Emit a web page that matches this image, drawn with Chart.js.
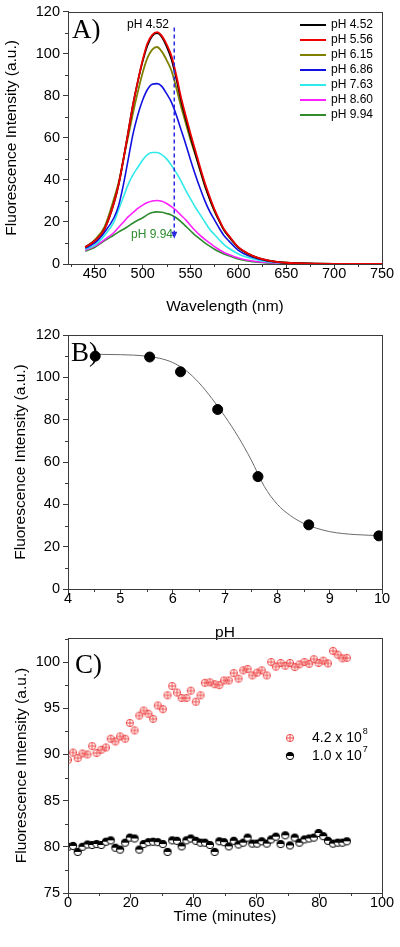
<!DOCTYPE html>
<html>
<head>
<meta charset="utf-8">
<script src="https://cdn.jsdelivr.net/npm/chart.js@4.4.1/dist/chart.umd.min.js"></script>
<style>
    html, body { margin: 0; padding: 0; background: #fff; }
    #wrap { position: relative; width: 400px; height: 947px; overflow: hidden; }
    .panel { position: absolute; left: 0; width: 400px; }
</style>
</head>
<body>
<div id="wrap">
    <div class="panel" style="top:0;height:316px"><canvas id="chartA"></canvas></div>
    <div class="panel" style="top:316px;height:326px"><canvas id="chartB"></canvas></div>
    <div class="panel" style="top:622px;height:325px"><canvas id="chartC"></canvas></div>
</div>
<script>
// ---------- DATA: A) spectra ----------
const wavelengths = [440, 450, 460, 470, 475, 480, 485, 490, 495, 500, 505, 510, 515, 520, 525, 530, 535, 540, 545, 550,
    555, 560, 565, 570, 575, 580, 585, 590, 600, 610, 620, 630, 640, 650, 660, 680, 700, 720, 750];
const phLabels = ['pH 4.52', 'pH 5.56', 'pH 6.15', 'pH 6.86', 'pH 7.63', 'pH 8.60', 'pH 9.94'];
const phColors = ['#000000', '#ee0000', '#808000', '#1010e0', '#30eaea', '#ff20ff', '#2e8b2e'];
const spec452 = [8, 11, 16.5, 29, 38, 50, 63, 76, 87, 96.5, 104, 108.5, 109.8, 108, 103.5, 97.5, 88.5, 78, 69, 60.5,
    52.5, 45, 37.5, 31, 25.5, 20.5, 16.2, 13.2, 7.8, 4.9, 2.9, 1.7, 1.0, 0.6, 0.4, 0.2, 0.1, 0.05, 0];
const spec556 = [8, 11, 16.5, 29, 38, 50, 63, 76, 87, 97, 105, 109, 110.3, 108.5, 104.5, 99, 90, 79.5, 70.5, 62,
    54, 46, 38.5, 32, 26, 21, 16.5, 13.5, 8, 5, 3, 1.8, 1.0, 0.6, 0.4, 0.2, 0.1, 0.05, 0];
const spec615 = [8, 11.5, 17.5, 31, 39, 50, 61, 72, 82, 91, 98, 102, 103.2, 101, 97, 92, 84, 75, 67, 59,
    52, 44.5, 37, 31, 25, 20.5, 16, 13, 7.8, 4.8, 2.9, 1.7, 1.0, 0.6, 0.4, 0.2, 0.1, 0.05, 0];
const spec686 = [7.5, 10, 15, 22, 28, 38, 50, 62, 71, 78, 83, 85.5, 85.8, 84.5, 81, 77, 71, 64, 57, 49.5,
    42.5, 36, 30, 25, 21, 17, 13.5, 11, 6.5, 4, 2.5, 1.5, 0.9, 0.5, 0.35, 0.15, 0.1, 0.05, 0];
const spec763 = [7, 9, 13.5, 20, 26, 32, 38, 42.5, 46, 49.5, 52, 53, 53, 52, 50, 47, 43.5, 39.5, 35, 31,
    27, 23.5, 20, 16.5, 14, 11.5, 9.2, 7.5, 4.8, 3.1, 1.9, 1.1, 0.65, 0.4, 0.25, 0.1, 0.05, 0.02, 0];
const spec860 = [6.5, 8.5, 11.5, 15, 17.5, 20, 22.5, 24.5, 26.5, 28, 29.2, 30, 30.2, 29.8, 28.8, 27.3, 25.5, 23.2, 21, 18.3,
    15.8, 13.6, 11.7, 10, 8.3, 6.8, 5.5, 4.5, 2.9, 1.8, 1.1, 0.7, 0.4, 0.25, 0.15, 0.08, 0.04, 0.02, 0];
const spec994 = [6, 8, 11, 13.8, 15.3, 16.5, 18, 19.5, 20.8, 22, 23.5, 24.5, 24.8, 24.6, 24, 23.3, 22, 20.2, 18, 15.8,
    13.6, 11.8, 10, 8.5, 7, 5.8, 4.8, 3.9, 2.4, 1.5, 0.9, 0.55, 0.35, 0.2, 0.12, 0.06, 0.03, 0.01, 0];
const spectra = [spec452, spec556, spec615, spec686, spec763, spec860, spec994];
const arrowAt = { x: 533, from: 112.5, to: 12 };

// ---------- DATA: B) titration ----------
const phValues = [4.52, 5.56, 6.15, 6.86, 7.63, 8.60, 9.94];
const peakIntensity = [110, 109.6, 102.6, 84.8, 53.1, 30.3, 25.1];
const fitPH = [4.52, 5.0, 5.25, 5.5, 5.75, 6.0, 6.25, 6.5, 6.75, 7.0, 7.25, 7.5, 7.75, 8.0, 8.25, 8.5, 8.75, 9.0, 9.25, 9.5, 9.75, 9.94];
const fitIntensity = [110.9, 110.7, 110.5, 110.0, 109.0, 107.0, 103.3, 97.5, 90, 81.5, 72, 61, 48.5, 40, 34.7, 31, 28.7, 27.1, 26.2, 25.7, 25.4, 25.3];

// ---------- DATA: C) time course ----------
const timeMin = [0, 1.6, 3.1, 4.6, 6.2, 7.7, 9.1, 10.6, 12.1, 13.6, 15.1, 16.6, 18.2, 19.7, 21.2, 22.7, 24.1, 25.6, 27.1, 28.6,
    30.2, 31.7, 33.2, 34.7, 36.2, 37.7, 39.1, 40.7, 42.2, 43.6, 45.2, 46.7, 48.2, 49.7, 51.2, 52.8, 54.3, 55.8, 57.2, 58.7,
    60.2, 61.7, 63.3, 64.7, 66.2, 67.7, 69.2, 70.7, 72.2, 73.7, 75.3, 76.8, 78.3, 79.8, 81.3, 82.8, 84.4, 85.9, 87.4, 88.8];
const highConc = [89.4, 90.2, 89.6, 90.1, 90.0, 90.9, 90.15, 90.5, 90.75, 91.7, 91.4, 91.95, 91.7, 93.4, 92.6, 94.2, 94.75, 94.4, 93.85, 95.3,
    94.9, 96.4, 97.4, 96.7, 96.1, 96.1, 96.9, 95.7, 96.4, 97.75, 97.8, 97.6, 97.5, 98.0, 98.0, 98.8, 98.2, 99.1, 99.25, 98.55,
    98.85, 99.1, 98.55, 100.0, 99.5, 99.9, 99.6, 99.9, 99.45, 99.75, 100.0, 99.8, 100.3, 99.9, 100.15, 99.85, 101.2, 100.8, 100.4, 100.45];
const lowConc = [80.0, 80.1, 79.45, 80.0, 80.25, 80.2, 80.3, 80.2, 80.55, 80.7, 79.9, 79.7, 80.45, 81.0, 80.9, 79.7, 80.3, 80.5, 80.55, 80.5,
    80.3, 79.45, 80.7, 80.65, 80.05, 80.7, 80.9, 80.65, 80.45, 80.45, 80.2, 79.45, 80.6, 80.5, 80.05, 80.65, 80.25, 80.45, 81.0, 80.35,
    80.35, 80.6, 80.35, 80.8, 81.1, 80.3, 81.25, 80.15, 81.0, 80.45, 80.8, 80.9, 81.0, 81.5, 81.15, 80.65, 80.35, 80.45, 80.45, 80.6];
const concLabels = [['4.2 x 10', '8'], ['1.0 x 10', '7']];

// ---------- TICKS ----------
const ticksAx = [450, 500, 550, 600, 650, 700, 750];
const minorAx = [425, 475, 525, 575, 625, 675, 725];
const ticksAy = [0, 20, 40, 60, 80, 100, 120];
const minorAy = [10, 30, 50, 70, 90, 110];
const ticksBx = [4, 5, 6, 7, 8, 9, 10];
const minorBx = [4.5, 5.5, 6.5, 7.5, 8.5, 9.5];
const ticksCx = [0, 20, 40, 60, 80, 100];
const minorCx = [10, 30, 50, 70, 90];
const ticksCy = [75, 80, 85, 90, 95, 100];
const minorCy = [77.5, 82.5, 87.5, 92.5, 97.5, 102.5];

// ---------- STYLE ----------
const FONT = "'Liberation Sans', Arial, sans-serif";
const SERIF = "'Liberation Serif', 'Times New Roman', serif";
const AXIS = '#3a3a3a';
const Y_TITLE = 'Fluorescence Intensity (a.u.)';

function toXY(xs, ys) {
    return xs.map((x, i) => ({ x: x, y: ys[i] }));
}

function axis(horizontal, min, max, major, title, size, titlePad) {
    return {
        type: 'linear', min: min, max: max,
        afterBuildTicks: s => { s.ticks = major.map(v => ({ value: v })); },
        ticks: {
            color: '#000', font: { family: FONT, size: 14.5 },
            padding: horizontal ? -4 : 3, autoSkip: false, maxRotation: 0,
            callback: v => String(v)
        },
        grid: { drawOnChartArea: false, tickLength: 5, tickColor: AXIS, tickWidth: 1 },
        border: { color: AXIS, width: 1 },
        title: {
            display: true, text: title, color: '#000',
            font: { family: FONT, size: 15.5 }, padding: titlePad
        },
        afterFit: s => { if (horizontal) s.height = size; else s.width = size; }
    };
}

// box round the plot, minor ticks and the panel letter
function framePlugin(letter, lx, ly, minorX, minorY) {
    return {
        id: 'frame' + letter,
        beforeDatasetsDraw(chart) {
            const ctx = chart.ctx;
            ctx.save();
            ctx.font = '27px ' + SERIF;
            ctx.fillStyle = '#000';
            ctx.textBaseline = 'alphabetic';
            ctx.fillText(letter + ')', lx, ly);
            ctx.restore();
        },
        afterDraw(chart) {
            const { ctx, chartArea: a, scales: { x, y } } = chart;
            ctx.save();
            ctx.strokeStyle = AXIS;
            ctx.lineWidth = 1;
            ctx.strokeRect(Math.round(a.left) + 0.5, Math.round(a.top) + 0.5,
                Math.round(a.right - a.left), Math.round(a.bottom - a.top));
            ctx.beginPath();
            minorX.forEach(v => {
                const px = Math.round(x.getPixelForValue(v)) + 0.5;
                ctx.moveTo(px, a.bottom); ctx.lineTo(px, a.bottom + 3);
            });
            minorY.forEach(v => {
                const py = Math.round(y.getPixelForValue(v)) + 0.5;
                ctx.moveTo(a.left, py); ctx.lineTo(a.left - 3, py);
            });
            ctx.stroke();
            ctx.restore();
        }
    };
}

// ---------- A) SPECTRA ----------
const legendA = {
    id: 'legendA',
    afterDatasetsDraw(chart) {
        const { ctx, scales: { x, y } } = chart;
        ctx.save();
        ctx.font = '12px ' + FONT;
        ctx.textBaseline = 'middle';
        chart.data.datasets.forEach((ds, i) => {
            const ly = 25 + 15 * i;
            ctx.strokeStyle = ds.borderColor;
            ctx.lineWidth = 2;
            ctx.beginPath(); ctx.moveTo(300, ly); ctx.lineTo(326, ly); ctx.stroke();
            ctx.fillStyle = '#000';
            ctx.fillText(ds.label, 331, ly);
        });
        // annotations
        ctx.textAlign = 'center';
        ctx.fillStyle = '#000';
        ctx.fillText(phLabels[0], 148, 25);
        ctx.fillStyle = phColors[6];
        ctx.fillText(phLabels[6], 152, 235);
        // dashed arrow
        const ax = x.getPixelForValue(arrowAt.x);
        const y0 = y.getPixelForValue(arrowAt.from);
        const y1 = y.getPixelForValue(arrowAt.to);
        ctx.strokeStyle = '#2a2ae0';
        ctx.fillStyle = '#2a2ae0';
        ctx.lineWidth = 1.5;
        ctx.setLineDash([4, 3]);
        ctx.beginPath(); ctx.moveTo(ax, y0); ctx.lineTo(ax, y1 - 6); ctx.stroke();
        ctx.setLineDash([]);
        ctx.beginPath();
        ctx.moveTo(ax - 3, y1 - 7); ctx.lineTo(ax + 3, y1 - 7); ctx.lineTo(ax, y1); ctx.closePath();
        ctx.fill();
        ctx.restore();
    }
};

new Chart(document.getElementById('chartA'), {
    type: 'line',
    data: {
        datasets: spectra.map((s, i) => ({
            label: phLabels[i],
            data: toXY(wavelengths, s),
            borderColor: phColors[i],
            borderWidth: i < 3 ? 1.8 : 1.6,
            pointRadius: 0,
            cubicInterpolationMode: 'monotone',
            order: i === 1 ? -1 : i
        }))
    },
    options: {
        responsive: true, maintainAspectRatio: false, animation: false,
        layout: { padding: { top: 11, right: 18, left: 0, bottom: 0 } },
        plugins: { legend: { display: false }, tooltip: { enabled: false } },
        scales: {
            x: axis(true, 422, 750, ticksAx, 'Wavelength (nm)', 52, { top: 0, bottom: 0 }),
            y: axis(false, 0, 120, ticksAy, Y_TITLE, 68, { top: 2, bottom: 0 })
        }
    },
    plugins: [legendA, framePlugin('A', 72, 38, minorAx, minorAy)]
});

// ---------- B) INTENSITY VS pH ----------
new Chart(document.getElementById('chartB'), {
    type: 'scatter',
    data: {
        datasets: [
            {
                label: 'data', data: toXY(phValues, peakIntensity),
                backgroundColor: '#000', borderColor: '#000', pointRadius: 5, showLine: false
            },
            {
                label: 'fit', data: toXY(fitPH, fitIntensity),
                borderColor: '#6a6a6a', borderWidth: 1, pointRadius: 0, showLine: true,
                cubicInterpolationMode: 'monotone'
            }
        ]
    },
    options: {
        responsive: true, maintainAspectRatio: false, animation: false,
        layout: { padding: { top: 19, right: 18, left: 0, bottom: 0 } },
        plugins: { legend: { display: false }, tooltip: { enabled: false } },
        scales: {
            x: axis(true, 4, 10, ticksBx, 'pH', 53, { top: 0, bottom: 0 }),
            y: axis(false, 0, 120, ticksAy, Y_TITLE, 68, { top: 11, bottom: 0 })
        }
    },
    plugins: [framePlugin('B', 71, 45, minorBx, minorAy)]
});

// ---------- C) TIME COURSE ----------
function crossCircle(r, color) {
    const s = Math.ceil(2 * r + 2);
    const c = document.createElement('canvas');
    c.width = c.height = s;
    const g = c.getContext('2d');
    const m = s / 2;
    g.strokeStyle = color; g.lineWidth = 1;
    g.beginPath(); g.arc(m, m, r, 0, Math.PI * 2); g.stroke();
    g.beginPath();
    g.moveTo(m - r, m); g.lineTo(m + r, m);
    g.moveTo(m, m - r); g.lineTo(m, m + r);
    g.stroke();
    return c;
}

function halfCircle(r) {
    const s = Math.ceil(2 * r + 2);
    const c = document.createElement('canvas');
    c.width = c.height = s;
    const g = c.getContext('2d');
    const m = s / 2;
    g.fillStyle = '#fff';
    g.beginPath(); g.arc(m, m, r, 0, Math.PI * 2); g.fill();
    g.fillStyle = '#000';
    g.beginPath(); g.arc(m, m, r, Math.PI, Math.PI * 2); g.closePath(); g.fill();
    g.strokeStyle = '#000'; g.lineWidth = 1;
    g.beginPath(); g.arc(m, m, r, 0, Math.PI * 2); g.stroke();
    return c;
}

const redMark = crossCircle(3.6, '#ee4a4a');
const blackMark = halfCircle(3.7);

const legendC = {
    id: 'legendC',
    afterDatasetsDraw(chart) {
        const ctx = chart.ctx;
        const marks = [redMark, blackMark];
        ctx.save();
        ctx.fillStyle = '#000';
        concLabels.forEach((lab, i) => {
            const ly = 116 + 18 * i;
            ctx.drawImage(marks[i], 290 - marks[i].width / 2, ly - marks[i].height / 2);
            ctx.font = '14px ' + FONT;
            ctx.textBaseline = 'middle';
            ctx.fillText(lab[0], 312, ly);
            const w = ctx.measureText(lab[0]).width;
            ctx.font = '9px ' + FONT;
            ctx.fillText(lab[1], 312 + w + 1, ly - 6);
        });
        ctx.restore();
    }
};

new Chart(document.getElementById('chartC'), {
    type: 'scatter',
    data: {
        datasets: [
            { label: concLabels[0].join(''), data: toXY(timeMin, highConc), pointStyle: redMark, pointRadius: 4 },
            { label: concLabels[1].join(''), data: toXY(timeMin, lowConc), pointStyle: blackMark, pointRadius: 4 }
        ]
    },
    options: {
        responsive: true, maintainAspectRatio: false, animation: false,
        layout: { padding: { top: 16, right: 18, left: 0, bottom: 0 } },
        plugins: { legend: { display: false }, tooltip: { enabled: false } },
        scales: {
            x: axis(true, 0, 100, ticksCx, 'Time (minutes)', 54, { top: 0, bottom: 21 }),
            y: axis(false, 75, 102.6, ticksCy, Y_TITLE, 68, { top: 12, bottom: 0 })
        }
    },
    plugins: [legendC, framePlugin('C', 75, 51, minorCx, minorCy)]
});
</script>
</body>
</html>
